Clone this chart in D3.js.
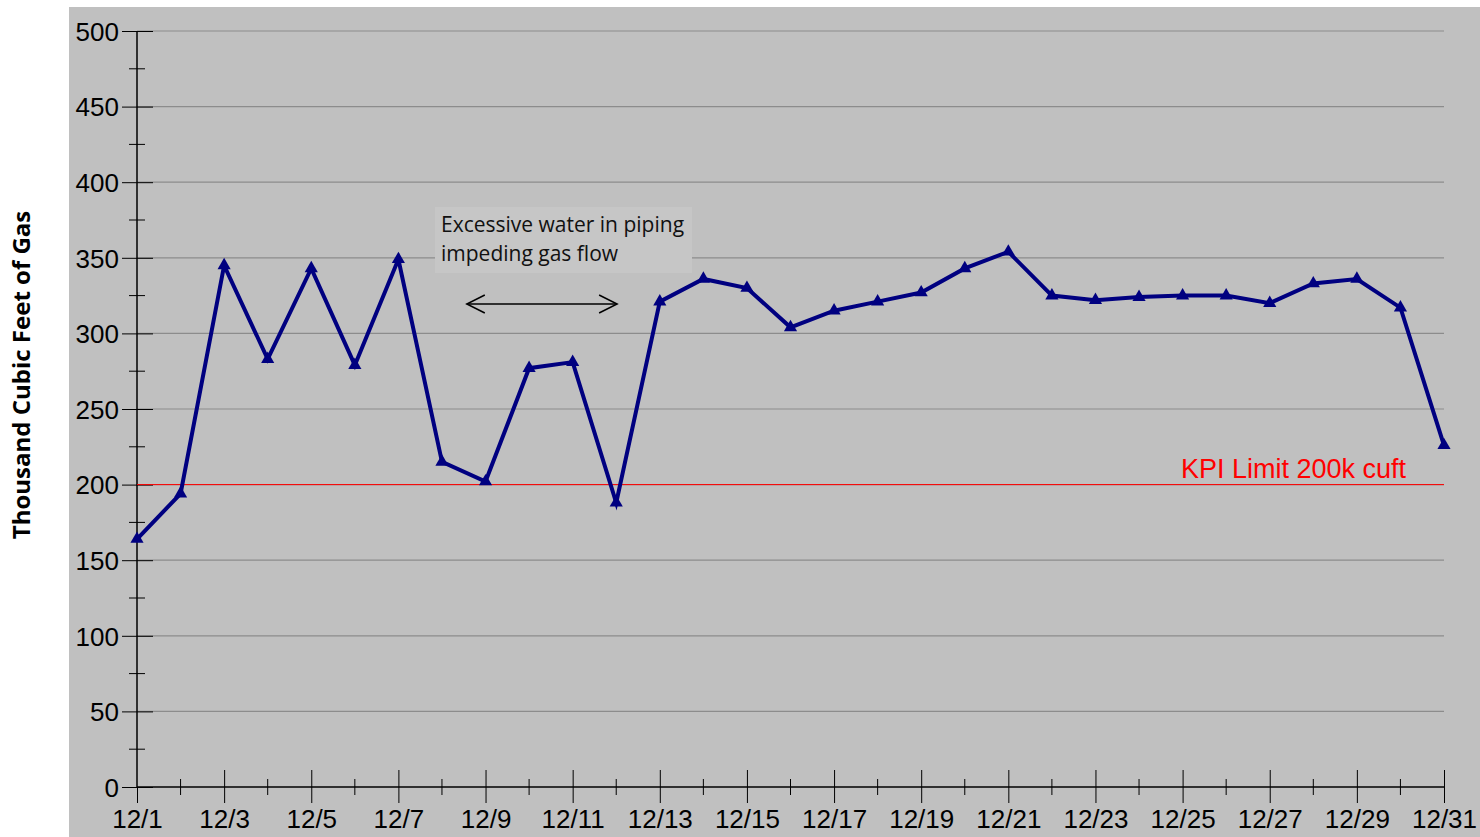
<!DOCTYPE html>
<html>
<head>
<meta charset="utf-8">
<script src="https://cdn.jsdelivr.net/npm/d3@7"></script>
<style>
  body { margin: 0; background: #fff; }
</style>
</head>
<body>
<div id="chart"></div>
<script>
// data
var days = d3.range(1, 32);
var gas = [164, 194, 345, 283, 343, 279, 349, 215, 202, 277, 281, 188, 321, 336, 330, 304,
           315, 321, 327, 343, 354, 325, 322, 324, 325, 325, 320, 333, 336, 317, 226];
var yTicks = [0, 50, 100, 150, 200, 250, 300, 350, 400, 450, 500];
var yMinor = [25, 75, 125, 175, 225, 275, 325, 375, 425, 475];
var xLabelDays = [1, 3, 5, 7, 9, 11, 13, 15, 17, 19, 21, 23, 25, 27, 29, 31];
var kpi = 200;
var note = ["Excessive water in piping", "impeding gas flow"];
var arrowDays = [8.57, 12.02];

var width = 1480, height = 837;

var svg = d3.select('#chart')
    .append('svg')
    .attr('width', width)
    .attr('height', height);

// grey panel
svg.append('rect')
    .attr('x', 69).attr('y', 7)
    .attr('width', width - 69).attr('height', height - 7)
    .attr('fill', '#c0c0c0');

var x = d3.scaleLinear().domain([1, 31]).range([137, 1444]);
var y = d3.scaleLinear().domain([0, 500]).range([787, 31]);

// grid lines
svg.append('g')
    .selectAll('line')
    .data(yTicks.slice(1))
    .enter()
    .append('line')
    .attr('x1', x(1)).attr('x2', x(31))
    .attr('y1', d => y(d)).attr('y2', d => y(d))
    .attr('stroke', '#8c8c8c')
    .attr('stroke-width', 1.2);

// y axis
var yAxis = d3.axisLeft(y)
    .tickValues(yTicks)
    .tickSize(15)
    .tickPadding(3);

var gy = svg.append('g')
    .attr('transform', 'translate(137,0)')
    .call(yAxis);
gy.select('.domain').remove();
gy.selectAll('.tick line').attr('x2', 16).attr('x1', -15).attr('stroke', '#000');
gy.selectAll('.tick text')
    .attr('font-family', 'Liberation Sans, Arial, sans-serif')
    .attr('font-size', 26)
    .attr('fill', '#000')
    .attr('dy', '0.36em');

svg.append('g')
    .selectAll('line')
    .data(yMinor)
    .enter()
    .append('line')
    .attr('x1', 129).attr('x2', 145)
    .attr('y1', d => y(d)).attr('y2', d => y(d))
    .attr('stroke', '#000');

svg.append('line')
    .attr('x1', 137).attr('x2', 137)
    .attr('y1', y(500)).attr('y2', y(0))
    .attr('stroke', '#000').attr('stroke-width', 1.5);

// x axis
var xAxis = d3.axisBottom(x)
    .tickValues(xLabelDays)
    .tickSize(16)
    .tickPadding(7)
    .tickFormat(d => '12/' + d);

var gx = svg.append('g')
    .attr('transform', 'translate(0,787)')
    .call(xAxis);
gx.select('.domain').remove();
gx.selectAll('.tick line')
    .attr('y1', d => d === 1 ? 0 : -17)
    .attr('stroke', '#000');
gx.selectAll('.tick text')
    .attr('font-family', 'Liberation Sans, Arial, sans-serif')
    .attr('font-size', 26)
    .attr('fill', '#000');

svg.append('g')
    .selectAll('line')
    .data(days.filter(d => d % 2 === 0))
    .enter()
    .append('line')
    .attr('x1', d => x(d)).attr('x2', d => x(d))
    .attr('y1', 779).attr('y2', 795)
    .attr('stroke', '#000');

svg.append('line')
    .attr('x1', x(1)).attr('x2', x(31))
    .attr('y1', 787).attr('y2', 787)
    .attr('stroke', '#000').attr('stroke-width', 1.5);

// y title
svg.append('text')
    .attr('transform', 'translate(30,375) rotate(-90)')
    .attr('text-anchor', 'middle')
    .attr('font-family', 'Open Sans, sans-serif')
    .attr('font-weight', 'bold')
    .attr('font-size', 24)
    .text('Thousand Cubic Feet of Gas');

// KPI line
svg.append('line')
    .attr('x1', x(1)).attr('x2', x(31))
    .attr('y1', y(kpi)).attr('y2', y(kpi))
    .attr('stroke', '#ff0000').attr('stroke-width', 1);

svg.append('text')
    .attr('x', 1181).attr('y', y(kpi) - 7)
    .attr('font-family', 'Liberation Sans, Arial, sans-serif')
    .attr('font-size', 27)
    .attr('fill', '#ff0000')
    .text('KPI Limit 200k cuft');

// annotation box
svg.append('rect')
    .attr('x', 435).attr('y', 207)
    .attr('width', 257).attr('height', 66)
    .attr('fill', '#c6c6c6');

svg.append('g')
    .selectAll('text')
    .data(note)
    .enter()
    .append('text')
    .attr('x', 441)
    .attr('y', (d, i) => 232 + i * 29)
    .attr('font-family', 'Open Sans, sans-serif')
    .attr('font-size', 21)
    .attr('fill', '#111')
    .text(d => d);

// double arrow
var ay = 304;
var ax1 = x(arrowDays[0]), ax2 = x(arrowDays[1]);
var arrow = svg.append('g').attr('stroke', '#000').attr('stroke-width', 1.5).attr('fill', 'none');
arrow.append('line').attr('x1', ax1).attr('x2', ax2).attr('y1', ay).attr('y2', ay);
arrow.append('path').attr('d', `M${ax1 + 18},${ay - 9} L${ax1},${ay} L${ax1 + 18},${ay + 9}`);
arrow.append('path').attr('d', `M${ax2 - 18},${ay - 9} L${ax2},${ay} L${ax2 - 18},${ay + 9}`);

// series
var line = d3.line()
    .x((d, i) => x(days[i]))
    .y(d => y(d));

svg.append('path')
    .datum(gas)
    .attr('d', line)
    .attr('fill', 'none')
    .attr('stroke', '#000080')
    .attr('stroke-width', 4)
    .attr('stroke-linejoin', 'miter');

svg.append('g')
    .selectAll('path')
    .data(gas)
    .enter()
    .append('path')
    .attr('d', d3.symbol().type(d3.symbolTriangle).size(75))
    .attr('transform', (d, i) => `translate(${x(days[i])},${y(d)})`)
    .attr('fill', '#000080');
</script>
</body>
</html>
